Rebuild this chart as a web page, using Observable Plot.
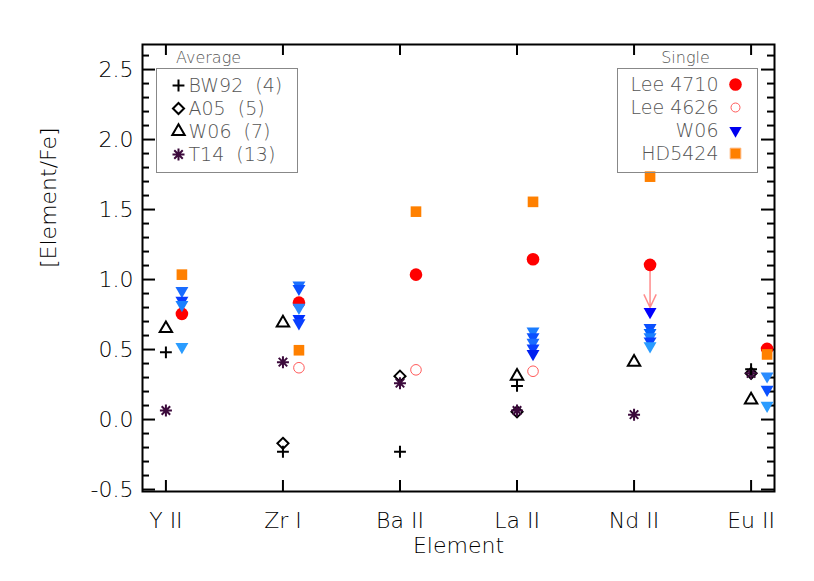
<!DOCTYPE html>
<html>
<head>
<meta charset="utf-8">
<script src="https://cdn.jsdelivr.net/npm/d3@7"></script>
<script src="https://cdn.jsdelivr.net/npm/@observablehq/plot@0.6"></script>
<style>
  html, body { margin: 0; padding: 0; background: #fff; }
  #chart { width: 814px; height: 581px; }
  #chart svg text { font-weight: 200; }
</style>
</head>
<body>
<div id="chart"></div>
<script>
// ---------- data ----------
const elements = ["Y II", "Zr I", "Ba II", "La II", "Nd II", "Eu II"];
const yTickValues = [-0.5, 0.0, 0.5, 1.0, 1.5, 2.0, 2.5];

// averages
const bw92 = [0.48, -0.23, -0.23, 0.24, null, 0.36];
const a05  = [null, -0.17, 0.31, 0.055, null, 0.33];
const w06avg = [0.65, 0.69, null, 0.31, 0.41, 0.14];
const t14  = [0.065, 0.41, 0.26, 0.065, 0.035, 0.33];

// single stars
const lee4710 = [0.755, 0.835, 1.035, 1.145, 1.105, 0.505];
const lee4710Limit = [null, null, null, null, 0.80, null]; // upper-limit arrow end
const lee4626 = [null, 0.37, 0.355, 0.345, null, null];
const hd5424  = [1.035, 0.495, 1.485, 1.555, 1.735, 0.465];
const w06single = [
  [0.92, 0.85, 0.82, 0.52],
  [0.96, 0.935, 0.80, 0.72, 0.69],
  [],
  [0.63, 0.59, 0.55, 0.51, 0.47],
  [0.77, 0.655, 0.62, 0.59, 0.56, 0.525],
  [0.31, 0.215, 0.10]
];
const w06shades = [
  ["#1a6cff", "#0a3cff", "#1a80ff", "#2a9cff"],
  ["#1a70ff", "#0a50ff", "#2a88ff", "#0030ff", "#0a40ff"],
  [],
  ["#1a7cff", "#0a50ff", "#1a6cff", "#0a40ff", "#0020f0"],
  ["#0000ff", "#0a50ff", "#0060ff", "#1a80ff", "#0a40ff", "#2a9cff"],
  ["#2a8cff", "#0a50ff", "#2a9cff"]
];

const avgLegend = ["BW92  (4)", "A05  (5)", "W06  (7)", "T14  (13)"];
const singleLegend = ["Lee 4710", "Lee 4626", "W06", "HD5424"];

// ---------- helpers ----------
const toRows = arr => arr.map((v, i) => ({x: i + 1, y: v})).filter(d => d.y != null);
const w06Rows = w06single.flatMap((vals, i) => vals.map((v, j) => ({x: i + 1, y: v, c: w06shades[i][j]})));
const limitRows = lee4710.map((v, i) => ({x: i + 1, y1: v, y2: lee4710Limit[i]})).filter(d => d.y2 != null);

const asterisk8 = {
  draw(ctx, size) {
    const r = Math.sqrt(size / Math.PI);
    const d = r * Math.SQRT1_2;
    ctx.moveTo(0, -r); ctx.lineTo(0, r);
    ctx.moveTo(-r, 0); ctx.lineTo(r, 0);
    ctx.moveTo(-d, -d); ctx.lineTo(d, d);
    ctx.moveTo(-d, d); ctx.lineTo(d, -d);
  }
};

const W = 814, H = 581, ML = 142, MR = 40, MT = 44, MB = 90;
const PW = W - ML - MR, PH = H - MT - MB;
const yMinor = d3.range(-5, 27).map(k => k / 10).filter(v => Math.abs(v * 2 - Math.round(v * 2)) > 1e-6);
const xTicks = elements.map((e, i) => i + 1);

const FONT = "DejaVu Sans";
const SX = 16; // single-star horizontal offset (px)
const purple = "#3c0a3c";
const gray = "#555";

// legend rows
const avgSym = [
  {symbol: "plus", r: 3.9, stroke: "#000"},
  {symbol: "diamond2", r: 5, stroke: "#000"},
  {symbol: "triangle", r: 4.6, stroke: "#000"},
  {symbol: asterisk8, r: 6, stroke: purple}
];
const legendMarks = [];
legendMarks.push(Plot.frame({insetLeft: 14, insetTop: 24, insetRight: 477, insetBottom: 319, stroke: "#888", strokeWidth: 1}));
legendMarks.push(Plot.frame({insetLeft: 475, insetTop: 24, insetRight: 17, insetBottom: 319, stroke: "#888", strokeWidth: 1}));
legendMarks.push(Plot.text(["Average"], {frameAnchor: "top-left", dx: 66, dy: 13, fontSize: 16, fill: gray, textAnchor: "middle", lineAnchor: "middle"}));
legendMarks.push(Plot.text(["Single"], {frameAnchor: "top-left", dx: 543, dy: 13, fontSize: 16, fill: gray, textAnchor: "middle", lineAnchor: "middle"}));
avgLegend.forEach((lab, i) => {
  const dy = 41 + i * 23;
  legendMarks.push(Plot.dot([0], {frameAnchor: "top-left", dx: 36, dy, symbol: avgSym[i].symbol, r: avgSym[i].r, stroke: avgSym[i].stroke, strokeWidth: 2, fill: "none"}));
  legendMarks.push(Plot.text([lab], {frameAnchor: "top-left", dx: 46, dy, fontSize: 19, fill: gray, textAnchor: "start", lineAnchor: "middle"}));
});
const singleSym = [
  {symbol: "circle", r: 6.3, fill: "#ff0000", stroke: "none"},
  {symbol: "circle", r: 4.5, fill: "none", stroke: "#ff5a5a"},
  {symbol: "triangle", r: 4.6, fill: "#0000f0", stroke: "none", rotate: 180},
  {symbol: "square", r: 6, fill: "#ff8000", stroke: "#ffb070"}
];
singleLegend.forEach((lab, i) => {
  const dy = 40 + i * 23;
  legendMarks.push(Plot.text([lab], {frameAnchor: "top-left", dx: 576, dy, fontSize: 19, fill: gray, textAnchor: "end", lineAnchor: "middle"}));
  legendMarks.push(Plot.dot([0], {frameAnchor: "top-left", dx: 593, dy, symbol: singleSym[i].symbol, r: singleSym[i].r, fill: singleSym[i].fill, stroke: singleSym[i].stroke, strokeWidth: 1, rotate: singleSym[i].rotate || 0}));
});

const chart = Plot.plot({
  width: W, height: H,
  marginLeft: ML, marginRight: MR, marginTop: MT, marginBottom: MB,
  style: {fontFamily: FONT, background: "#fff", color: "#000"},
  x: {domain: [0.8, 6.2]},
  y: {domain: [-0.514, 2.679]},
  marks: [
    // axes labels
    Plot.axisY({ticks: yTickValues, tickSize: 0, tickPadding: 9, tickFormat: d => d.toFixed(1), fontSize: 22, label: null}),
    Plot.axisX({ticks: xTicks, tickSize: 0, tickPadding: 21, tickFormat: d => elements[d - 1], fontSize: 22, label: null}),
    Plot.text(["[Element/Fe]"], {frameAnchor: "left", dx: -94, rotate: -90, fontSize: 22, fill: "#000"}),
    Plot.text(["Element"], {frameAnchor: "bottom", dy: 54, fontSize: 22, fill: "#000", lineAnchor: "middle"}),
    // inward ticks
    Plot.tickY(yTickValues, {y: d => d, insetRight: PW - 13, strokeWidth: 2}),
    Plot.tickY(yTickValues, {y: d => d, insetLeft: PW - 13, strokeWidth: 2}),
    Plot.tickY(yMinor, {y: d => d, insetRight: PW - 7, strokeWidth: 2}),
    Plot.tickY(yMinor, {y: d => d, insetLeft: PW - 7, strokeWidth: 2}),
    Plot.tickX(xTicks, {x: d => d, insetTop: PH - 11, strokeWidth: 2}),
    Plot.tickX(xTicks, {x: d => d, insetBottom: PH - 11, strokeWidth: 2}),
    Plot.frame({stroke: "#000", strokeWidth: 2}),
    // averages
    Plot.dot(toRows(a05), {x: "x", y: "y", symbol: "diamond2", r: 5, stroke: "#000", strokeWidth: 2}),
    Plot.dot(toRows(w06avg), {x: "x", y: "y", symbol: "triangle", r: 4.6, stroke: "#000", strokeWidth: 2}),
    Plot.dot(toRows(t14), {x: "x", y: "y", symbol: asterisk8, r: 6, stroke: purple, strokeWidth: 2}),
    Plot.dot(toRows(bw92), {x: "x", y: "y", symbol: "plus", r: 3.9, stroke: "#000", strokeWidth: 2}),
    // singles
    Plot.arrow(limitRows, {x: "x", y1: "y1", y2: "y2", dx: SX, stroke: "#ff8c8c", strokeWidth: 1.5, headLength: 14, headAngle: 50}),
    Plot.dot(toRows(lee4710), {x: "x", y: "y", dx: SX, symbol: "circle", r: 6.3, fill: "#ff0000"}),
    Plot.dot(toRows(lee4626), {x: "x", y: "y", dx: SX, symbol: "circle", r: 5.3, fill: "none", stroke: "#ff5a5a", strokeWidth: 1}),
    Plot.dot(toRows(hd5424), {x: "x", y: "y", dx: SX, symbol: "square", r: 6, fill: "#ff8000"}),
    Plot.dot(w06Rows, {x: "x", y: "y", dx: SX, symbol: "triangle", r: 4.8, rotate: 180, fill: d => d.c}),
    ...legendMarks
  ]
});
document.getElementById("chart").appendChild(chart);
</script>
</body>
</html>
